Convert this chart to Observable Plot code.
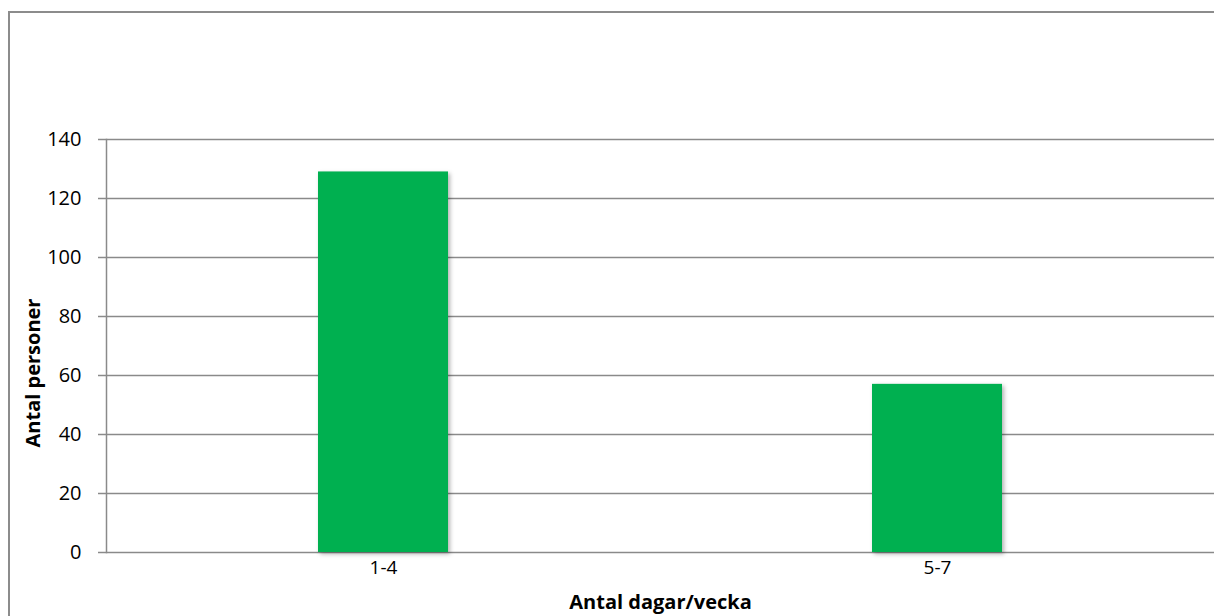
<!DOCTYPE html>
<html>
<head>
<meta charset="utf-8">
<script src="https://cdn.jsdelivr.net/npm/d3@7"></script>
<script src="https://cdn.jsdelivr.net/npm/@observablehq/plot@0.6"></script>
<style>
  html, body { margin: 0; padding: 0; background: #fff; }
  #wrap { position: relative; width: 1214px; height: 616px; overflow: hidden; }
  #border { position: absolute; left: 8px; top: 11px; width: 1300px; height: 700px;
            border: 2px solid #8c8c8c; box-sizing: border-box; pointer-events: none; }
  #chart { position: absolute; left: 0; top: 0; }
  g[aria-label="x-axis label"] text { font-weight: bold; font-size: 20px; }
  g[aria-label="bar"] rect { filter: drop-shadow(2px 2px 2px rgba(0,0,0,0.3)); }
</style>
</head>
<body>
<div id="wrap"><div id="border"></div><div id="chart"></div></div>
<script>
const categories = ["1-4", "5-7"];
const values = [129, 57];
const yTicks = [0, 20, 40, 60, 80, 100, 120, 140];
const xTitle = "Antal dagar/vecka";
const yTitle = "Antal personer";

const data = categories.map((c, i) => ({cat: c, value: values[i]}));
const gridColor = "#8a8a8a";

const chart = Plot.plot({
  width: 1214,
  height: 616,
  marginLeft: 106,
  marginRight: 0,
  marginTop: 139,
  marginBottom: 64,
  style: {fontFamily: "'Open Sans', sans-serif", fontSize: "20px", color: "black", background: "transparent", overflow: "visible"},
  x: {domain: categories, paddingInner: 0.765, paddingOuter: 0.3825},
  y: {domain: [0, 140]},
  marks: [
    Plot.gridY(yTicks, {stroke: gridColor, strokeOpacity: 1, strokeWidth: 1.5}),
    Plot.barY(data, {x: "cat", y: "value", fill: "#00B050"}),
    Plot.frame({anchor: "left", stroke: gridColor, strokeWidth: 1.5}),
    Plot.axisY(yTicks, {tickSize: 8, tickPadding: 17, stroke: gridColor, strokeWidth: 1.5, fill: "black", fontSize: 20, label: null}),
    Plot.text([yTitle], {frameAnchor: "left", rotate: -90, dx: -73, dy: 27, text: d => d,
      fontWeight: "bold", fontSize: 20, fill: "black", textAnchor: "middle", lineAnchor: "middle"}),
    Plot.axisX({tickSize: 0, tickPadding: 8, fill: "black", fontSize: 19,
      label: xTitle, labelAnchor: "center", labelOffset: 56, labelArrow: "none"})
  ]
});
document.getElementById("chart").appendChild(chart);
</script>
</body>
</html>
